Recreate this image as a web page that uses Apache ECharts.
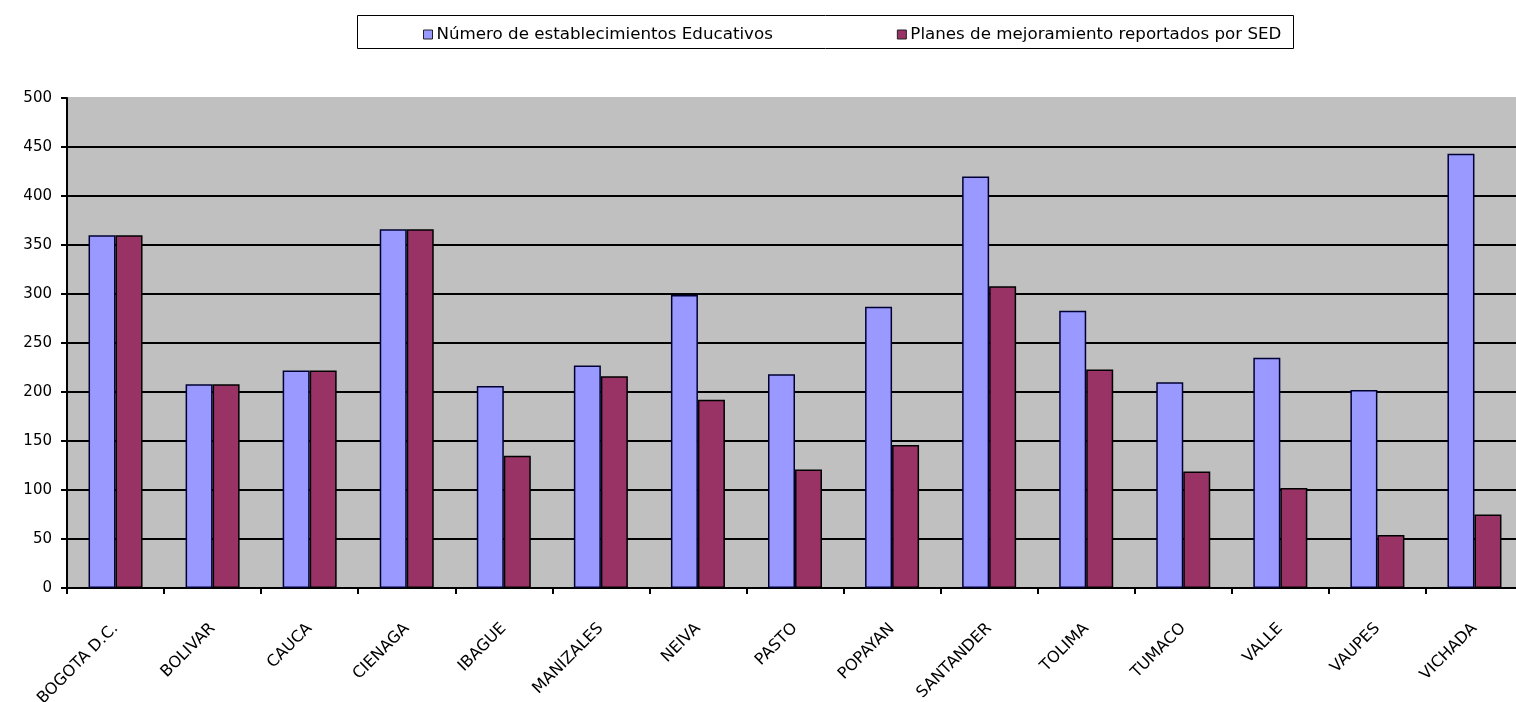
<!DOCTYPE html>
<html>
<head>
<meta charset="utf-8">
<script src="https://cdn.jsdelivr.net/npm/echarts@6/dist/echarts.min.js"></script>
<style>
html,body{margin:0;padding:0;background:#fff;}
#chart{width:1516px;height:702px;}
</style>
</head>
<body>
<div id="chart"></div>
<script>
const categories = ["BOGOTA D.C.","BOLIVAR","CAUCA","CIENAGA","IBAGUE","MANIZALES","NEIVA","PASTO","POPAYAN","SANTANDER","TOLIMA","TUMACO","VALLE","VAUPES","VICHADA"];
const establecimientos = [360,208,222,366,206,227,299,218,287,420,283,210,235,202,443];
const planes = [360,208,222,366,135,216,192,121,146,308,223,119,102,54,75];
const seriesNames = ["Número de establecimientos Educativos","Planes de mejoramiento reportados por SED"];
const yTicks = {min:0, max:500, interval:50};

const gridColors = [];
for (let v = yTicks.min; v <= yTicks.max; v += yTicks.interval) gridColors.push(v === yTicks.max ? '#c0c0c0' : '#000');

const chart = echarts.init(document.getElementById('chart'));
chart.setOption({
  animation:false,
  backgroundColor:'#ffffff',
  textStyle:{fontFamily:'DejaVu Sans, sans-serif'},
  graphic:[{type:'rect',left:357,top:15,shape:{width:936,height:33},style:{fill:'#fff',stroke:'#000',lineWidth:1},z:-1}],
  legend:{
    left:418, top:21, itemWidth:9, itemHeight:9, itemGap:124,
    icon:'rect',
    itemStyle:{borderColor:'#222',borderWidth:1},
    textStyle:{fontSize:16.7,color:'#000',fontFamily:'DejaVu Sans, sans-serif',padding:[0,0,0,-1]},
    data:seriesNames
  },
  grid:{left:67,width:1456,top:98,bottom:114,show:true,backgroundColor:'#c0c0c0',borderWidth:0,outerBoundsMode:'none',containLabel:false},
  xAxis:{
    type:'category', data:categories,
    axisLine:{lineStyle:{color:'#000',width:2}},
    axisTick:{show:true,length:6,lineStyle:{color:'#000',width:2}},
    axisLabel:{rotate:45,fontSize:16,color:'#000',margin:38,interval:0,fontFamily:'DejaVu Sans, sans-serif'}
  },
  yAxis:{
    type:'value', min:yTicks.min, max:yTicks.max, interval:yTicks.interval,
    axisLine:{show:true,lineStyle:{color:'#000',width:2}},
    axisTick:{show:true,length:6,lineStyle:{color:'#000',width:2}},
    axisLabel:{fontSize:15,color:'#000',margin:15,fontFamily:'DejaVu Sans, sans-serif'},
    splitLine:{lineStyle:{color:gridColors,width:2}}
  },
  series:[
    {name:seriesNames[0],type:'bar',data:establecimientos,barWidth:27,barGap:'0%',
     itemStyle:{color:'#9999ff',borderColor:'#000033',borderWidth:1.5}},
    {name:seriesNames[1],type:'bar',data:planes,barWidth:27,
     itemStyle:{color:'#993366',borderColor:'#000',borderWidth:1.5}}
  ]
});
</script>
</body>
</html>
